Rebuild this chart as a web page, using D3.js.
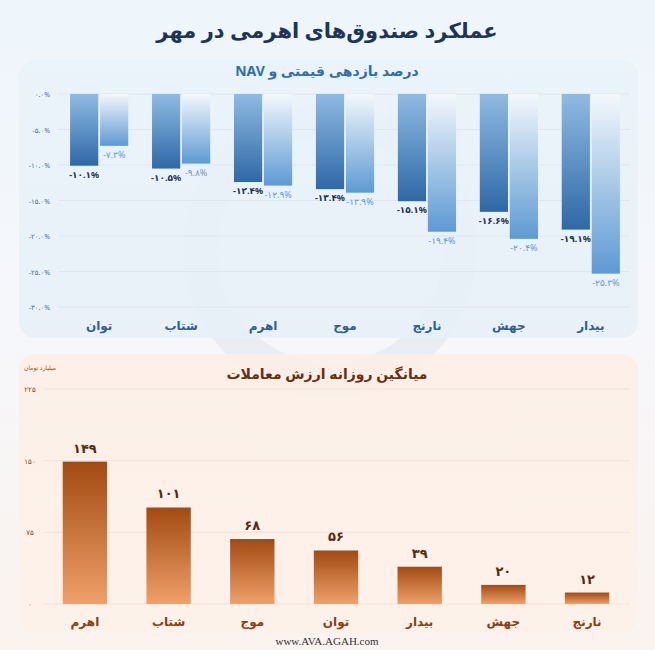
<!DOCTYPE html>
<html><head><meta charset="utf-8">
<script src="https://cdn.jsdelivr.net/npm/d3@7/dist/d3.min.js"></script>
<style>body{margin:0;background:#fff}svg{display:block}</style>
</head><body>
<script>
const funds = ["توان","شتاب","اهرم","موج","نارنج","جهش","بیدار"];
const priceRet = [-10.1,-10.5,-12.4,-13.4,-15.1,-16.6,-19.1];
const navRet = [-7.3,-9.8,-12.9,-13.9,-19.4,-20.4,-25.3];
const retTicks = [0,-5,-10,-15,-20,-25,-30];
const volFunds = ["اهرم","شتاب","موج","توان","بیدار","جهش","نارنج"];
const volValues = [149,101,68,56,39,20,12];
const volTicks = [0,75,150,225];

const fa = s => String(s).replace(/\d/g, d => "۰۱۲۳۴۵۶۷۸۹"[d]);
const font = "'Noto Sans', 'DejaVu Sans', sans-serif";
const W=655,H=650;
const svg = d3.select("body").append("svg").attr("width",W).attr("height",H).style("font-family",font);
const defs = svg.append("defs");
const bg = defs.append("linearGradient").attr("id","bg").attr("x1",0).attr("y1",0).attr("x2",0).attr("y2",1);
bg.append("stop").attr("offset",0).attr("stop-color","#eef6fb");
bg.append("stop").attr("offset",0.5).attr("stop-color","#f6f7fb");
bg.append("stop").attr("offset",1).attr("stop-color","#fbf3ee");
svg.append("rect").attr("width",W).attr("height",H).attr("fill","url(#bg)");
function grad(id,c0,c1){const g=defs.append("linearGradient").attr("id",id).attr("x1",0).attr("y1",0).attr("x2",0).attr("y2",1);
 g.append("stop").attr("offset",0).attr("stop-color",c0);g.append("stop").attr("offset",1).attr("stop-color",c1);}
grad("dark","#8fbbe3","#2f68a6");
grad("light","#f4f8fc","#5d9ad3");
grad("orange","#a24a12","#f0a06a");
grad("topPanel","#eaf3fa","#e7f0f8");
grad("botPanel","#fcefe6","#fdf1e9");

svg.append("circle").attr("cx",330).attr("cy",250).attr("r",130).attr("fill","none").attr("stroke","#d9e0e8").attr("stroke-width",34).attr("opacity",0.45);

svg.append("text").attr("x",327).attr("y",38).attr("text-anchor","middle").attr("font-size",21).attr("font-weight","bold").attr("fill","#1d3557").text("عملکرد صندوق‌های اهرمی در مهر");

svg.append("rect").attr("x",19).attr("y",60).attr("width",619).attr("height",278).attr("rx",16).attr("fill","url(#topPanel)").attr("opacity",0.85);
svg.append("text").attr("x",327).attr("y",76).attr("text-anchor","middle").attr("font-size",14).attr("font-weight","bold").attr("fill","#2e6fb0").attr("direction","rtl").text("درصد بازدهی قیمتی و NAV");

const y1 = d3.scaleLinear().domain([0,-30]).range([94,307]);
const x1 = d3.scaleBand().domain(funds).range([66,624]).paddingInner(0.29).paddingOuter(0.05);
const xs = d3.scaleBand().domain(["p","n"]).range([0,x1.bandwidth()]).paddingInner(0.06);
const g1 = svg.append("g");
g1.selectAll(".gl").data(retTicks).join("line").attr("x1",58).attr("x2",630).attr("y1",d=>y1(d)).attr("y2",d=>y1(d)).attr("stroke","#dfe6ee");
g1.selectAll(".tl").data(retTicks).join("text").attr("x",50).attr("y",d=>y1(d)+3).attr("text-anchor","end").attr("font-size",7).attr("fill","#4a6f98").text(d=>fa((d===0?"":"-")+Math.abs(d).toFixed(1)+"%"));
funds.forEach((f,i)=>{
 const gx=x1(f);
 g1.append("rect").attr("x",gx+xs("p")).attr("y",y1(0)).attr("width",xs.bandwidth()).attr("height",y1(priceRet[i])-y1(0)).attr("fill","url(#dark)");
 g1.append("rect").attr("x",gx+xs("n")).attr("y",y1(0)).attr("width",xs.bandwidth()).attr("height",y1(navRet[i])-y1(0)).attr("fill","url(#light)");
 g1.append("text").attr("x",gx+xs("p")+xs.bandwidth()/2).attr("y",y1(priceRet[i])+12).attr("text-anchor","middle").attr("font-size",9).attr("font-weight","bold").attr("fill","#1d3557").text(fa(priceRet[i].toFixed(1))+"%");
 g1.append("text").attr("x",gx+xs("n")+xs.bandwidth()/2).attr("y",y1(navRet[i])+12).attr("text-anchor","middle").attr("font-size",9).attr("fill","#5d9ad3").text(fa(navRet[i].toFixed(1))+"%");
 g1.append("text").attr("x",gx+x1.bandwidth()/2).attr("y",330).attr("text-anchor","middle").attr("font-size",12).attr("font-weight","bold").attr("fill","#2e5f96").text(f);
});

svg.append("rect").attr("x",19).attr("y",354).attr("width",619).attr("height",279).attr("rx",16).attr("fill","url(#botPanel)").attr("opacity",0.9);
svg.append("text").attr("x",327).attr("y",379).attr("text-anchor","middle").attr("font-size",14).attr("font-weight","bold").attr("fill","#6b2e0c").text("میانگین روزانه ارزش معاملات");
svg.append("text").attr("x",40).attr("y",370).attr("text-anchor","middle").attr("font-size",6).attr("fill","#8a4a20").text("میلیارد تومان");
const y2 = d3.scaleLinear().domain([0,225]).range([604,389]);
const x2 = d3.scaleBand().domain(volFunds).range([46,626]).paddingInner(0.47).paddingOuter(0.2);
const g2 = svg.append("g");
g2.selectAll(".gl").data(volTicks).join("line").attr("x1",44).attr("x2",630).attr("y1",d=>y2(d)).attr("y2",d=>y2(d)).attr("stroke","#f1e1d5");
g2.selectAll(".tl").data(volTicks).join("text").attr("x",30).attr("y",d=>y2(d)+3).attr("text-anchor","middle").attr("font-size",7).attr("fill","#8a4a20").text(d=>fa(d));
g2.selectAll(".b").data(volValues).join("rect").attr("x",(d,i)=>x2(volFunds[i])).attr("y",d=>y2(d)).attr("width",x2.bandwidth()).attr("height",d=>y2(0)-y2(d)).attr("fill","url(#orange)");
g2.selectAll(".v").data(volValues).join("text").attr("x",(d,i)=>x2(volFunds[i])+x2.bandwidth()/2).attr("y",d=>y2(d)-9).attr("text-anchor","middle").attr("font-size",13).attr("font-weight","bold").attr("fill","#5a2a0e").text(d=>fa(d));
g2.selectAll(".c").data(volFunds).join("text").attr("x",d=>x2(d)+x2.bandwidth()/2).attr("y",626).attr("text-anchor","middle").attr("font-size",12).attr("font-weight","bold").attr("fill","#8a3e12").text(d=>d);

svg.append("text").attr("x",327).attr("y",645).attr("text-anchor","middle").attr("font-size",11).attr("font-family","'Liberation Serif', serif").attr("fill","#333").text("www.AVA.AGAH.com");
</script>
</body></html>
